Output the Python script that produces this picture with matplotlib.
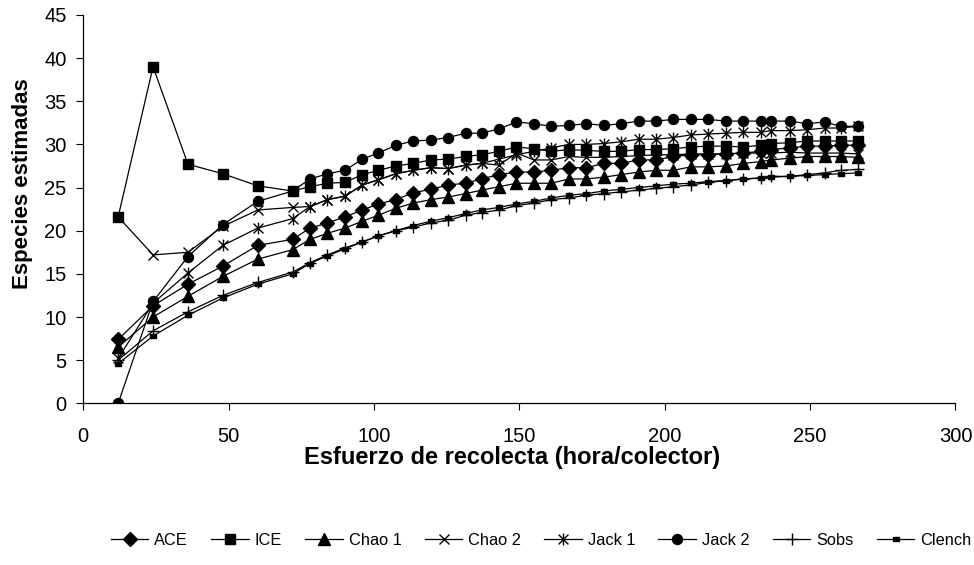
import matplotlib
matplotlib.use("Agg")
import matplotlib.pyplot as plt
from matplotlib.path import Path

plt.rcParams["font.family"] = ["Liberation Sans", "DejaVu Sans"]

# Esfuerzo acumulado (hora/colector)
esfuerzo = [12, 24, 36, 48, 60, 72, 78, 84, 90, 96, 101.5, 107.5, 113.5, 119.5,
            125.5, 131.5, 137, 143, 149, 155, 161, 167, 173, 179, 185, 191, 197,
            203, 209, 215, 221, 227, 233, 236.5, 243, 249, 255, 260.5, 266.5]

ace = [7.4, 11.3, 13.8, 15.9, 18.3, 19.0, 20.3, 20.9, 21.6, 22.4, 23.1, 23.6, 24.4,
       24.8, 25.3, 25.5, 26.0, 26.5, 26.8, 26.8, 27.0, 27.3, 27.3, 27.8, 27.8, 28.2,
       28.2, 28.6, 28.8, 28.8, 28.9, 29.0, 29.2, 29.4, 29.6, 29.8, 29.8, 29.9, 29.9]
ice = [21.6, 39.0, 27.7, 26.6, 25.2, 24.6, 25.1, 25.5, 25.6, 26.5, 27.0, 27.5, 27.8,
       28.2, 28.3, 28.6, 28.8, 29.2, 29.7, 29.5, 29.2, 29.4, 29.3, 29.2, 29.2, 29.4,
       29.4, 29.5, 29.7, 29.8, 29.8, 29.7, 29.9, 30.1, 30.2, 30.4, 30.4, 30.4, 30.4]
chao1 = [6.5, 10.0, 12.4, 14.7, 16.7, 17.8, 19.0, 19.7, 20.3, 21.1, 21.8, 22.6, 23.2,
         23.6, 23.9, 24.3, 24.7, 25.1, 25.5, 25.5, 25.5, 26.0, 26.0, 26.2, 26.5, 26.8,
         27.0, 27.0, 27.4, 27.4, 27.5, 27.8, 28.0, 28.2, 28.4, 28.6, 28.6, 28.6, 28.5]
chao2 = [21.6, 17.2, 17.5, 20.5, 22.4, 22.7, 22.8, 23.6, 24.0, 25.3, 25.9, 26.6, 27.0,
         27.3, 27.2, 27.6, 27.8, 27.6, 29.0, 28.2, 28.2, 28.6, 28.5, 28.5, 28.6, 28.7,
         28.8, 28.8, 28.9, 28.9, 28.9, 29.0, 29.0, 29.0, 29.1, 29.0, 29.0, 29.0, 28.9]
jack1 = [5.2, 11.6, 15.1, 18.3, 20.3, 21.4, 22.8, 23.6, 24.0, 25.3, 25.9, 26.6, 27.0,
         27.3, 27.2, 27.6, 27.8, 28.3, 28.8, 29.2, 29.6, 30.0, 30.0, 30.1, 30.3, 30.6,
         30.6, 30.8, 31.1, 31.2, 31.3, 31.4, 31.4, 31.6, 31.6, 31.7, 31.9, 31.9, 32.1]
jack2 = [0.0, 11.8, 17.0, 20.7, 23.4, 24.6, 26.0, 26.6, 27.0, 28.3, 29.0, 29.9, 30.4,
         30.5, 30.8, 31.3, 31.3, 31.8, 32.6, 32.4, 32.1, 32.2, 32.4, 32.2, 32.4, 32.7,
         32.7, 32.9, 32.9, 32.9, 32.7, 32.7, 32.7, 32.7, 32.7, 32.4, 32.6, 32.1, 32.1]
sobs = [5.0, 8.4, 10.6, 12.5, 14.0, 15.2, 16.3, 17.2, 18.0, 18.7, 19.4, 20.0, 20.4,
        20.9, 21.2, 21.8, 22.1, 22.4, 22.9, 23.2, 23.6, 23.8, 24.1, 24.3, 24.5, 24.7,
        24.9, 25.1, 25.3, 25.6, 25.8, 26.0, 26.1, 26.3, 26.3, 26.5, 26.7, 27.0, 27.1]
clench = [4.6, 7.8, 10.2, 12.2, 13.8, 15.0, 16.2, 17.1, 17.9, 18.7, 19.4, 20.0, 20.6,
          21.1, 21.5, 22.0, 22.4, 22.7, 23.1, 23.4, 23.8, 24.1, 24.3, 24.6, 24.8, 25.0,
          25.2, 25.4, 25.5, 25.7, 25.8, 26.0, 26.1, 26.2, 26.3, 26.4, 26.5, 26.6, 26.7]

nombres = ["ACE", "ICE", "Chao 1", "Chao 2", "Jack 1", "Jack 2", "Sobs", "Clench"]
x_ticks = [0, 50, 100, 150, 200, 250, 300]
y_ticks = [0, 5, 10, 15, 20, 25, 30, 35, 40, 45]

# Asterisco: aspa más línea vertical
asterisco = Path([(-1, -1), (1, 1), (-1, 1), (1, -1), (0, -1.2), (0, 1.2)],
                 [Path.MOVETO, Path.LINETO, Path.MOVETO, Path.LINETO,
                  Path.MOVETO, Path.LINETO])
# Guion corto relleno
guion = Path([(-1, -0.45), (1, -0.45), (1, 0.45), (-1, 0.45), (-1, -0.45)],
             [Path.MOVETO, Path.LINETO, Path.LINETO, Path.LINETO, Path.CLOSEPOLY])

estilos = [
    dict(marker="D", markersize=6.8),
    dict(marker="s", markersize=6.8),
    dict(marker="^", markersize=8),
    dict(marker="x", markersize=7.5, markeredgewidth=1.0),
    dict(marker=asterisco, markersize=8.5, markeredgewidth=1.0),
    dict(marker="o", markersize=7.2),
    dict(marker="+", markersize=9, markeredgewidth=1.0),
    dict(marker=guion, markersize=5),
]
series = [ace, ice, chao1, chao2, jack1, jack2, sobs, clench]

fig = plt.figure(figsize=(9.74, 5.65), dpi=100)
ax = fig.add_axes([0.0855, 0.2862, 0.8955, 0.6873])

for valores, nombre, est in zip(series, nombres, estilos):
    ax.plot(esfuerzo, valores, color="black", linewidth=0.9,
            markerfacecolor="black", markeredgecolor="black",
            label=nombre, **est)

ax.set_xlim(0, 300)
ax.set_ylim(0, 45)
ax.set_xticks(x_ticks)
ax.set_yticks(y_ticks)
ax.tick_params(axis="both", direction="out", length=5, width=0.8,
               labelsize=14.5, color="black")
ax.tick_params(axis="x", pad=12)
ax.tick_params(axis="y", pad=7)
for lado in ("top", "right"):
    ax.spines[lado].set_visible(False)
for lado in ("left", "bottom"):
    ax.spines[lado].set_linewidth(0.9)
    ax.spines[lado].set_color("black")

ax.set_xlabel("Esfuerzo de recolecta (hora/colector)", fontsize=17,
              fontweight="bold")
ax.set_ylabel("Especies estimadas", fontsize=16, fontweight="bold")
ax.xaxis.set_label_coords(0.492, -0.11)
ax.yaxis.set_label_coords(-0.0575, 0.565)

fig.legend(loc="center", bbox_to_anchor=(0.5555, 0.044), ncol=8, frameon=False,
           fontsize=11.8, handlelength=2.3, columnspacing=1.42, handletextpad=0.35,
           borderaxespad=0, borderpad=0)

fig.savefig("out.png", dpi=100)
